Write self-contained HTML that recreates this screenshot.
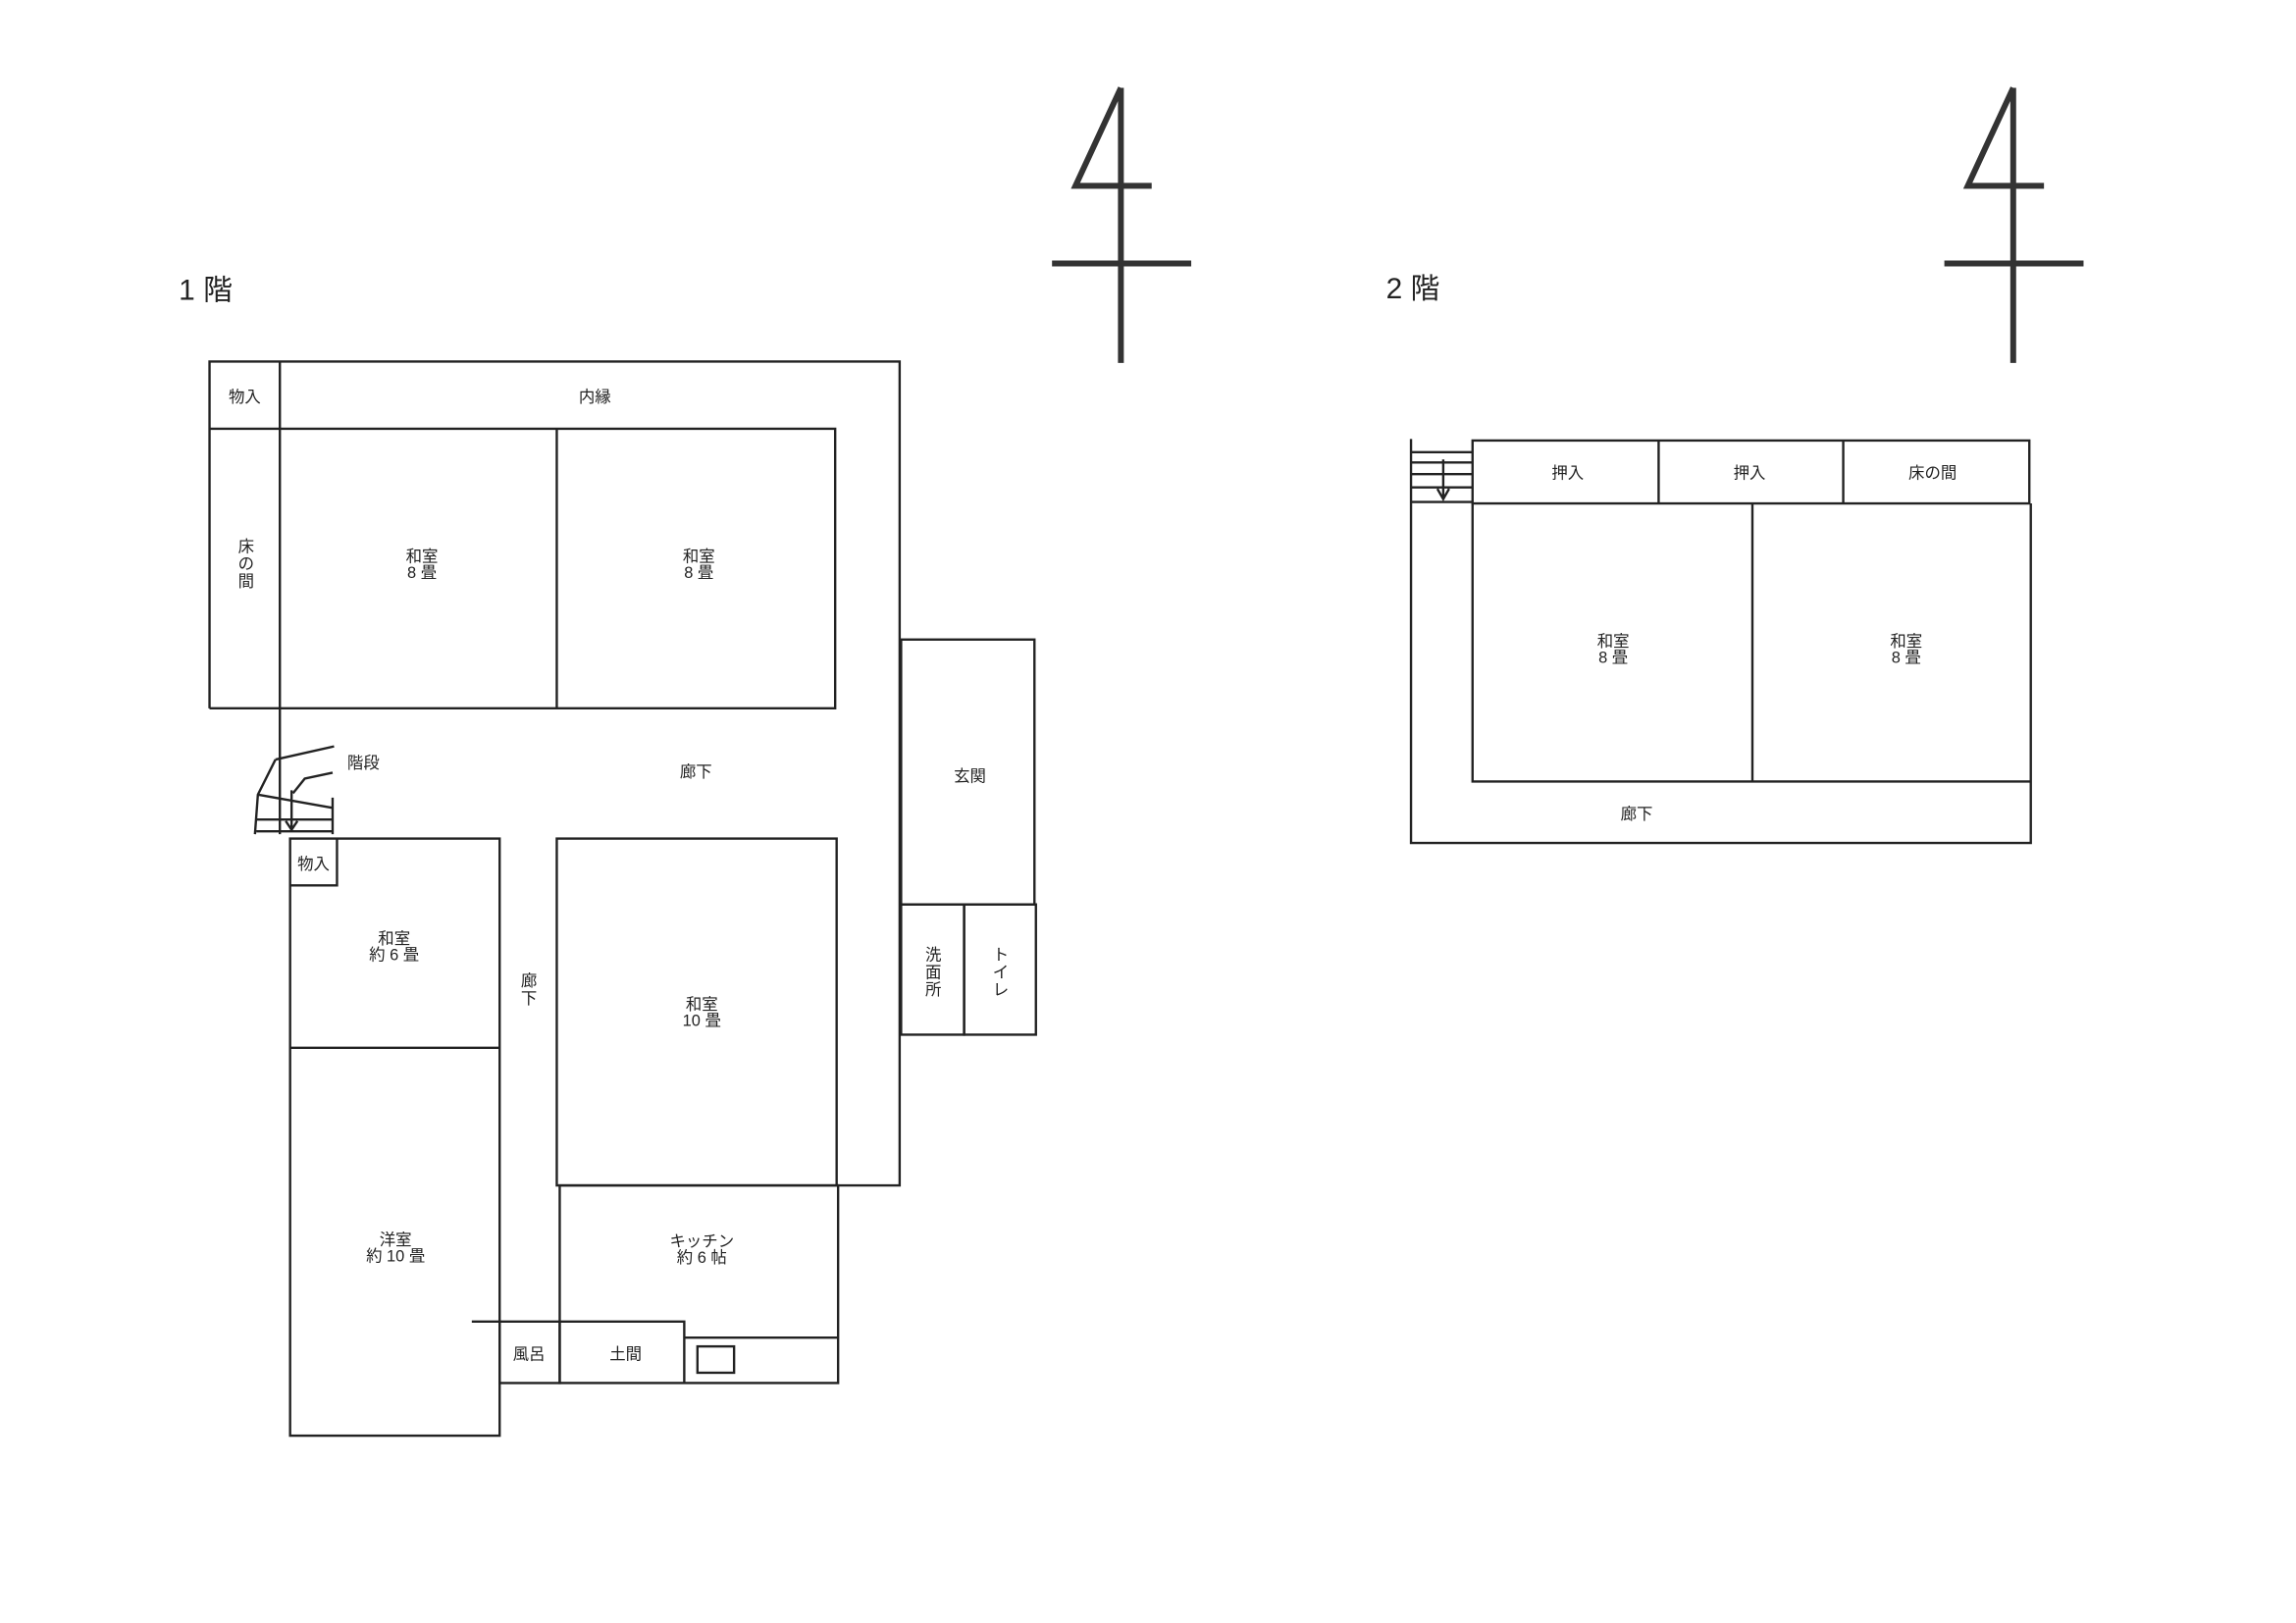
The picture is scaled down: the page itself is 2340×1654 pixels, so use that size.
<!DOCTYPE html>
<html><head><meta charset="utf-8"><style>
html,body{margin:0;padding:0;background:#fff;}
svg{display:block;}
text{font-family:"Liberation Sans","Noto Sans CJK JP",sans-serif;fill:#222;font-size:11px;text-anchor:middle;}
.big{font-size:20px;text-anchor:start;}
</style></head><body>
<svg width="2340" height="1654" viewBox="0 0 1567 1109" preserveAspectRatio="none" xmlns="http://www.w3.org/2000/svg">
<g stroke="#333" fill="none" stroke-width="4">
<path d="M765 60 V248 M765 60 L734 127 H786 M718 180 H813"/>
<path d="M1374 60 V248 M1374 60 L1343 127 H1395 M1327 180 H1422"/>
</g>
<text class="big" x="122" y="205">1 階</text>
<text class="big" x="946" y="204">2 階</text>
<g stroke="#222" fill="none" stroke-width="1.6">
<path d="M143 484 V247 H614 V810 H571"/>
<path d="M143 484 H570 V293 H191 M143 293 H191 M191 247 V570 M380 293 V484"/>
<path d="M188 519 L228 510 M188 519 L176 543 L174 570 M176 543 L227 552 M200 542 L208 532 L227 528 M175 560 H227 M175 568 H227 M227 545 V570 M199 540 V566"/>
<path d="M195 561 L199 567 L203 561"/>
<rect x="198" y="573" width="143" height="408"/>
<path d="M198 716 H341 M198 605 H230 V573"/>
<rect x="380" y="573" width="191" height="237"/>
<rect x="382" y="810" width="190" height="135"/>
<path d="M467 914 H572 M322 903 H467 V945 M341 903 V945 H382 V903"/>
<rect x="476" y="920" width="25" height="18"/>
<rect x="615" y="437" width="91" height="181"/>
<rect x="615" y="618" width="43" height="89"/>
<rect x="658" y="618" width="49" height="89"/>
<rect x="1005" y="301" width="380" height="43"/>
<path d="M1132 301 V344 M1258 301 V344"/>
<path d="M963 300 V576 H1386 V344 M1005 344 V534 H1386 M1196 344 V534"/>
<path d="M963 309 H1005 M963 316 H1005 M963 324 H1005 M963 333 H1005 M963 343 H1005 M985 314 V340 M981 334 L985 341 L989 334"/>
</g>
<text x="167" y="275">物入</text>
<text x="406" y="275">内縁</text>
<text x="168" y="377">床</text><text x="168" y="389">の</text><text x="168" y="401">間</text>
<text x="288" y="384">和室</text><text x="288" y="395">8 畳</text>
<text x="477" y="384">和室</text><text x="477" y="395">8 畳</text>
<text x="248" y="525">階段</text>
<text x="475" y="531">廊下</text>
<text x="662" y="534">玄関</text>
<text x="214" y="594">物入</text>
<text x="269" y="645">和室</text><text x="269" y="656">約 6 畳</text>
<text x="361" y="674">廊</text><text x="361" y="686">下</text>
<text x="479" y="690">和室</text><text x="479" y="701">10 畳</text>
<text x="637" y="656">洗</text><text x="637" y="668">面</text><text x="637" y="680">所</text>
<text x="683" y="656">ト</text><text x="683" y="668">イ</text><text x="683" y="680">レ</text>
<text x="270" y="851">洋室</text><text x="270" y="862">約 10 畳</text>
<text x="479" y="852">キッチン</text><text x="479" y="863">約 6 帖</text>
<text x="361" y="929">風呂</text>
<text x="427" y="929">土間</text>
<text x="1070" y="327">押入</text>
<text x="1194" y="327">押入</text>
<text x="1319" y="327">床の間</text>
<text x="1101" y="442">和室</text><text x="1101" y="453">8 畳</text>
<text x="1301" y="442">和室</text><text x="1301" y="453">8 畳</text>
<text x="1117" y="560">廊下</text>
</svg>
</body></html>
